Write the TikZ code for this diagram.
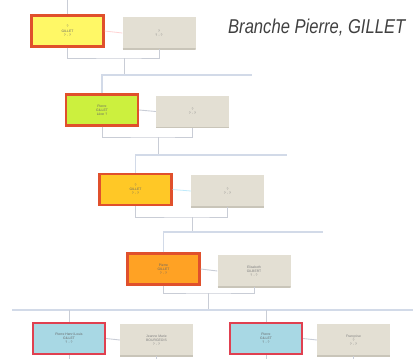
\documentclass[tikz,border=0pt]{standalone}
\usepackage{fontspec}
\setmainfont{Liberation Sans}
\definecolor{yfill}{HTML}{FFF866}
\definecolor{vfill}{HTML}{CCF03E}
\definecolor{ofill}{HTML}{FFC826}
\definecolor{afill}{HTML}{FFA224}
\definecolor{bfill}{HTML}{A8D8E4}
\definecolor{gfill}{HTML}{E3DFD3}
\definecolor{gedge}{HTML}{C9C5B9}
\definecolor{redge}{HTML}{E0502C}
\definecolor{pedge}{HTML}{E04050}
\definecolor{lnk}{HTML}{C9CDD6}
\definecolor{barc}{HTML}{D2DAE8}
\begin{document}
\begin{tikzpicture}[
    x=1pt, y=-1pt,
    pbox/.style={rectangle, draw=redge, line width=2.2pt, minimum width=72pt, minimum height=31pt,
      inner sep=0pt, align=center, font=\fontsize{3.4}{4.2}\selectfont, text=black!60},
    gbox/.style={rectangle, fill=gfill, minimum width=73pt, minimum height=32pt, inner sep=0pt,
      align=center, font=\fontsize{3.4}{4.2}\selectfont, text=black!50,
      path picture={\draw[gedge, line width=1.2pt] (path picture bounding box.south west) -- (path picture bounding box.south east);}},
    link/.style={draw=lnk, line width=0.9pt},
    bar/.style={draw=barc, line width=1.1pt},
    wed/.style={draw=pink!70, line width=0.8pt},
    title/.style={anchor=base west, inner sep=0pt, font=\fontsize{20}{24}\selectfont\itshape, text=black!75, xscale=0.83},
  ]
  \useasboundingbox (0,0) rectangle (413,359);

  % generation boxes
  \node[pbox, fill=yfill] (p1) at (67.5,31)  {?\\GILLET\\? - ?};
  \node[gbox]             (s1) at (159,33)   {?\\? - ?};
  \node[pbox, fill=vfill] (p2) at (102,110)  {Pierre\\GILLET\\L\'eon ?};
  \node[gbox]             (s2) at (192.5,111.5) {?\\? - ?};
  \node[pbox, fill=ofill] (p3) at (135.5,189.5) {?\\GILLET\\? - ?};
  \node[gbox]             (s3) at (227.5,191) {?\\? - ?};
  \node[pbox, fill=afill] (p4) at (163.5,269) {Pierre\\GILLET\\? - ?};
  \node[gbox]             (s4) at (254,271)  {Elisabeth\\GILBERT\\? - ?};
  \node[pbox, fill=bfill, draw=pedge] (p5) at (69,338.5)  {Pierre Henri Louis\\GILLET\\? - ?};
  \node[gbox]             (s5) at (156.5,340) {Jeanne Marie\\BOURGEOIS\\? - ?};
  \node[pbox, fill=bfill, draw=pedge] (p6) at (266,338.5) {Pierre\\GILLET\\? - ?};
  \node[gbox]             (s6) at (353.5,340) {Fran\c{c}oise\\?\\? - ?};

  \node[title] (branche) at (228,33) {Branche Pierre, GILLET};

  % junctions
  \coordinate (top) at (67.5,0);
  \coordinate (m1) at (124,58);
  \coordinate (h1) at (252,75);
  \coordinate (m2) at (158,137);
  \coordinate (h2) at (287,155);
  \coordinate (m3) at (192,217);
  \coordinate (h3) at (323,232);
  \coordinate (m4) at (208,293);
  \coordinate (h4l) at (12,310);
  \coordinate (h4r) at (413,310);
  \foreach \n in {p5,s5,p6,s6} \coordinate (\n end) at (\n.south |- 0,359);

  % couples
  \draw[link] (top) -- (p1.north);
  \draw[wed] (p1.east) -- (s1.west);
  \draw[link] (p2.east) -- (s2.west);
  \draw[wed, draw=cyan!25] (p3.east) -- (s3.west);
  \draw[link] (p4.east) -- (s4.west);
  \draw[link] (p5.east) -- (s5.west);
  \draw[link] (p6.east) -- (s6.west);
  \foreach \p/\s/\m in {p1/s1/m1, p2/s2/m2, p3/s3/m3, p4/s4/m4}
    \draw[link] (\p.south) |- (\m) -| (\s.south);

  % descent
  \draw[link] (m1) -- (m1 |- h1);
  \draw[bar] (p2.north) |- (h1);
  \draw[link] (m2) -- (m2 |- h2);
  \draw[bar] (p3.north) |- (h2);
  \draw[link] (m3) -- (m3 |- h3);
  \draw[bar] (p4.north) |- (h3);
  \draw[link] (m4) -- (m4 |- h4r);
  \draw[bar] (h4l) -- (h4r);
  \draw[link] (p5.north |- h4l) -- (p5.north);
  \draw[link] (p6.north |- h4l) -- (p6.north);
  \foreach \n in {p5,s5,p6,s6} \draw[link] (\n.south) -- (\n end);
\end{tikzpicture}
\end{document}
